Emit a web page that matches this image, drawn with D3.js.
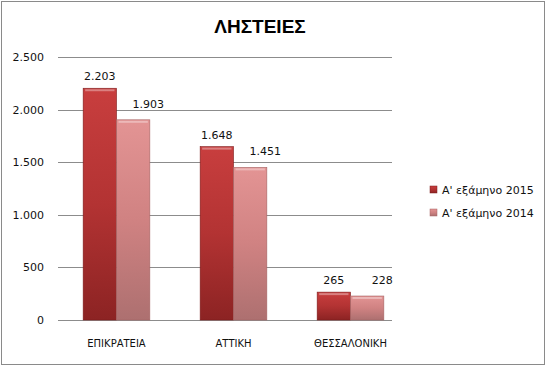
<!DOCTYPE html>
<html>
<head>
<meta charset="utf-8">
<script src="https://cdn.jsdelivr.net/npm/d3@7"></script>
<style>
  body { margin: 0; background: #fff; }
  text { font-family: "DejaVu Sans", "Liberation Sans", sans-serif; }
</style>
</head>
<body>
<svg></svg>
<script>
// chart data
const categories = ["ΕΠΙΚΡΑΤΕΙΑ", "ΑΤΤΙΚΗ", "ΘΕΣΣΑΛΟΝΙΚΗ"];
const seriesNames = ["Α' εξάμηνο 2015", "Α' εξάμηνο 2014"];
const values2015 = [2203, 1648, 265];
const values2014 = [1903, 1451, 228];
const yTicks = [0, 500, 1000, 1500, 2000, 2500];
const chartTitle = "ΛΗΣΤΕΙΕΣ";

const W = 546, H = 366;
const margin = {top: 57, left: 58, bottom: 46, right: 137};
const plotW = W - margin.left - margin.right;
const plotH = H - margin.top - margin.bottom;

const svg = d3.select("svg").attr("width", W).attr("height", H);

const defs = svg.append("defs");
const gradSpecs = [
  {id: "g2015", stops: ["#c83e3e", "#b33333", "#8c2323"]},
  {id: "g2014", stops: ["#e39494", "#d08282", "#ad7070"]}
];
gradSpecs.forEach(s => {
  const g = defs.append("linearGradient").attr("id", s.id)
    .attr("x1", 0).attr("y1", 0).attr("x2", 0).attr("y2", 1);
  s.stops.forEach((c, i) => g.append("stop")
    .attr("offset", i / (s.stops.length - 1)).attr("stop-color", c));
});

// outer border
svg.append("rect")
  .attr("x", 1.5).attr("y", 1.5)
  .attr("width", W - 3).attr("height", H - 3)
  .attr("fill", "#fff").attr("stroke", "#8a8a8a").attr("stroke-width", 1);

svg.append("text")
  .attr("x", 260).attr("y", 33)
  .attr("text-anchor", "middle")
  .style("font-family", "'Liberation Sans', sans-serif")
  .style("font-size", "19px").style("font-weight", "bold")
  .text(chartTitle);

const g = svg.append("g")
  .attr("transform", `translate(${margin.left},${margin.top})`);

const x = d3.scaleBand().domain(categories).range([0, 351]).paddingInner(0.43).paddingOuter(0.215);
const x1 = d3.scaleBand().domain(seriesNames).range([0, x.bandwidth()]);
const y = d3.scaleLinear().domain([0, 2500]).range([plotH, 0]);

// gridlines
g.append("g").selectAll("line")
  .data(yTicks)
  .join("line")
  .attr("x1", 0).attr("x2", 334)
  .attr("y1", d => Math.round(y(d)) + 0.5).attr("y2", d => Math.round(y(d)) + 0.5)
  .attr("stroke", "#8c8c8c");

// y tick labels
g.append("g").selectAll("text")
  .data(yTicks)
  .join("text")
  .attr("x", -14).attr("y", d => y(d) + 4)
  .attr("text-anchor", "end")
  .style("font-size", "11px").attr("fill", "#111")
  .text(d => d3.format(",")(d).replace(/,/g, "."));

// category labels
g.append("g").selectAll("text")
  .data(categories)
  .join("text")
  .attr("x", d => x(d) + x.bandwidth() / 2)
  .attr("y", plotH + 27)
  .attr("text-anchor", "middle")
  .style("font-size", "10px").attr("fill", "#111")
  .text(d => d);

const series = [
  {name: seriesNames[0], values: values2015, fill: "url(#g2015)", edge: "#7d1c1c", dx: 0, dy: 12},
  {name: seriesNames[1], values: values2014, fill: "url(#g2014)", edge: "#a66464", dx: 15, dy: 16}
];

series.forEach(s => {
  const grp = g.append("g");
  grp.selectAll("rect")
    .data(categories)
    .join("rect")
    .attr("x", (d, i) => x(d) + x1(s.name))
    .attr("y", (d, i) => y(s.values[i]))
    .attr("width", x1.bandwidth())
    .attr("height", (d, i) => plotH - y(s.values[i]))
    .attr("fill", s.fill)
    .attr("stroke", s.edge).attr("stroke-width", 0.6);
  // bevel highlight on top
  grp.selectAll("line.top")
    .data(categories)
    .join("line")
    .attr("class", "top")
    .attr("x1", (d, i) => x(d) + x1(s.name) + 2)
    .attr("x2", (d, i) => x(d) + x1(s.name) + x1.bandwidth() - 2)
    .attr("y1", (d, i) => y(s.values[i]) + 2)
    .attr("y2", (d, i) => y(s.values[i]) + 2)
    .attr("stroke", "#fff").attr("stroke-opacity", 0.35).attr("stroke-width", 2);
  grp.selectAll("text")
    .data(categories)
    .join("text")
    .attr("x", (d, i) => x(d) + x1(s.name) + x1.bandwidth() / 2 + s.dx)
    .attr("y", (d, i) => y(s.values[i]) - s.dy + 4)
    .attr("text-anchor", "middle")
    .style("font-size", "11px").attr("fill", "#111")
    .text((d, i) => d3.format(",")(s.values[i]).replace(/,/g, "."));
});

// legend
const legend = svg.append("g").attr("transform", "translate(430,186)");
series.forEach((s, i) => {
  legend.append("rect")
    .attr("x", 0).attr("y", i * 23)
    .attr("width", 7).attr("height", 7)
    .attr("fill", s.fill).attr("stroke", s.edge).attr("stroke-width", 0.5);
  legend.append("text")
    .attr("x", 12).attr("y", i * 23 + 8)
    .style("font-size", "11px").attr("fill", "#111")
    .text(s.name);
});
</script>
</body>
</html>
